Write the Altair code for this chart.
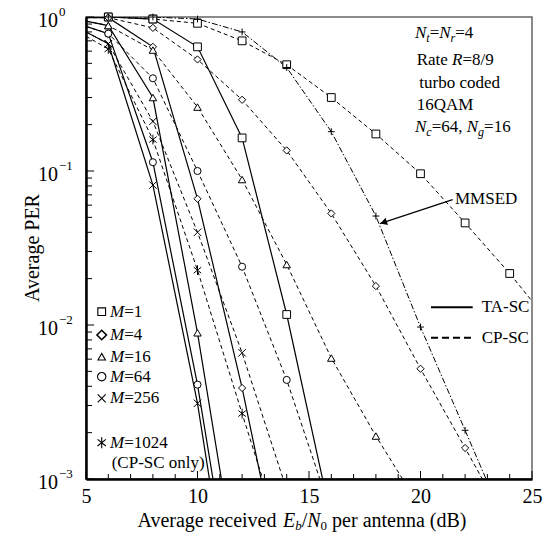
import altair as alt
import pandas as pd

# ---------------- data ----------------
# TA-SC (solid lines)
x_ta_m1 = [5, 6, 8, 10, 12, 14, 16]
y_ta_m1 = [1.0, 1.0, 0.97, 0.64, 0.164, 0.0117, 0.00055]
x_ta_m4 = [5, 6, 8, 10, 12, 14]
y_ta_m4 = [0.99, 0.99, 0.64, 0.066, 0.0039, 0.00016]
x_ta_m16 = [5, 6, 8, 10, 12]
y_ta_m16 = [0.94, 0.88, 0.30, 0.0089, 0.00015]
x_ta_m64 = [5, 6, 8, 10, 12]
y_ta_m64 = [0.87, 0.78, 0.114, 0.0041, 0.00007]
x_ta_m256 = [5, 6, 8, 10, 12]
y_ta_m256 = [0.80, 0.67, 0.081, 0.0031, 0.000045]

# CP-SC (dashed lines)
x_cp_m1 = [5, 6, 8, 10, 12, 14, 16, 18, 20, 22, 24, 25]
y_cp_m1 = [1.0, 1.0, 0.97, 0.91, 0.70, 0.49, 0.30, 0.174, 0.096, 0.046, 0.0216, 0.0143]
x_cp_m4 = [5, 6, 8, 10, 12, 14, 16, 18, 20, 22, 24]
y_cp_m4 = [0.99, 0.99, 0.85, 0.53, 0.29, 0.136, 0.053, 0.0179, 0.0052, 0.00159, 0.00048]
x_cp_m16 = [5, 6, 8, 10, 12, 14, 16, 18, 20]
y_cp_m16 = [0.94, 0.88, 0.61, 0.26, 0.088, 0.0247, 0.0061, 0.0019, 0.00065]
x_cp_m64 = [5, 6, 8, 10, 12, 14, 16]
y_cp_m64 = [0.87, 0.78, 0.40, 0.10, 0.0239, 0.0044, 0.0006]
x_cp_m256 = [5, 6, 8, 10, 12, 14]
y_cp_m256 = [0.80, 0.67, 0.21, 0.040, 0.0066, 0.00085]
x_cp_m1024 = [5, 6, 8, 10, 12, 14]
y_cp_m1024 = [0.75, 0.62, 0.16, 0.0227, 0.00266, 0.00032]

# MMSED (dash-dot line)
x_mmsed = [5, 6, 8, 10, 12, 14, 16, 18, 20, 22, 24]
y_mmsed = [1.0, 1.0, 1.0, 0.97, 0.80, 0.47, 0.18, 0.051, 0.0097, 0.00207, 0.00044]

# arrow annotation (data coords): start near label, tip at MMSED curve
arrow_x = [21.44, 18.18]
arrow_y = [0.0652, 0.0455]

# axis ticks
x_major = [5, 10, 15, 20, 25]
x_minor = [v for v in range(5, 26) if v % 5 != 0]
y_major = [1.0, 0.1, 0.01, 0.001]
y_minor = [m * 10.0 ** e for e in (-3, -2, -1) for m in range(2, 10)]
y_exp = ["0", "\u22121", "\u22122", "\u22123"]

legend_m = ["1", "4", "16", "64", "256", "1024"]

# ---------------- build tables ----------------
series = [
    ("TA1", "TA", "square", x_ta_m1, y_ta_m1),
    ("TA4", "TA", "diamond", x_ta_m4, y_ta_m4),
    ("TA16", "TA", "triangle", x_ta_m16, y_ta_m16),
    ("TA64", "TA", "circle", x_ta_m64, y_ta_m64),
    ("TA256", "TA", "x", x_ta_m256, y_ta_m256),
    ("CP1", "CP", "square", x_cp_m1, y_cp_m1),
    ("CP4", "CP", "diamond", x_cp_m4, y_cp_m4),
    ("CP16", "CP", "triangle", x_cp_m16, y_cp_m16),
    ("CP64", "CP", "circle", x_cp_m64, y_cp_m64),
    ("CP256", "CP", "x", x_cp_m256, y_cp_m256),
    ("CP1024", "CP", "ast", x_cp_m1024, y_cp_m1024),
    ("MMSED", "MM", "plus", x_mmsed, y_mmsed),
]
rows = []
for name, grp, mk, xs, ys in series:
    for xv, yv in zip(xs, ys):
        rows.append(dict(series=name, grp=grp, mk=mk, x=xv, y=yv))
df = pd.DataFrame(rows)

SHAPES = {
    "square": ("square", 60),
    "diamond": ("diamond", 52),
    "triangle": ("triangle-up", 56),
    "circle": ("circle", 50),
    "x": ("M-1,-1L1,1M-1,1L1,-1", 56),
    "ast": ("M-1,-0.8L1,0.8M-1,0.8L1,-0.8M0,-1.3L0,1.3", 56),
    "plus": ("M-1,0L1,0M0,-1L0,1", 46),
}

PW, PH = 446, 462
FONT = "Liberation Serif"

X = alt.X("x:Q", scale=alt.Scale(domain=[5, 25], nice=False, zero=False),
          axis=alt.Axis(values=x_major, ticks=False, grid=False, title=None,
                        labelFont=FONT, labelFontSize=20, labelColor="black",
                        labelPadding=7, domainColor="black", domainWidth=2.5,
                        labelFlush=False))
Y = alt.Y("y:Q", scale=alt.Scale(type="log", domain=[0.001, 1], nice=False),
          axis=alt.Axis(labels=False, ticks=False, grid=False, title=None,
                        domainColor="black", domainWidth=2.5))

base = alt.Chart(df)
layers = []

# ticks (inward)
layers.append(alt.Chart(pd.DataFrame({"x": x_minor})).mark_rule(color="black", strokeWidth=1)
              .encode(x=X, y=alt.value(PH), y2=alt.value(PH - 5)))
layers.append(alt.Chart(pd.DataFrame({"x": x_major})).mark_rule(color="black", strokeWidth=1)
              .encode(x=X, y=alt.value(PH), y2=alt.value(PH - 8)))
layers.append(alt.Chart(pd.DataFrame({"y": y_minor})).mark_rule(color="black", strokeWidth=1)
              .encode(y=Y, x=alt.value(0), x2=alt.value(6)))
layers.append(alt.Chart(pd.DataFrame({"y": y_major})).mark_rule(color="black", strokeWidth=1)
              .encode(y=Y, x=alt.value(0), x2=alt.value(8)))

# lines
layers.append(base.transform_filter("datum.grp == 'TA'")
              .mark_line(clip=True, color="black", strokeWidth=1.2)
              .encode(x=X, y=Y, detail="series:N"))
layers.append(base.transform_filter("datum.grp == 'CP'")
              .mark_line(clip=True, color="black", strokeWidth=1.0, strokeDash=[4, 3])
              .encode(x=X, y=Y, detail="series:N"))
layers.append(base.transform_filter("datum.grp == 'MM'")
              .mark_line(clip=True, color="black", strokeWidth=1.0, strokeDash=[6, 2, 1.5, 2])
              .encode(x=X, y=Y, detail="series:N"))

# markers
for mk, (shape, size) in SHAPES.items():
    layers.append(base.transform_filter(
        f"datum.mk == '{mk}' && datum.y >= 0.001 && datum.x >= 6 && datum.x <= 24")
        .mark_point(shape=shape, size=size, filled=True, fill="white", stroke="black",
                    strokeWidth=1, opacity=1)
        .encode(x=X, y=Y))

# arrow
adf = pd.DataFrame({"x": [arrow_x[0]], "y": [arrow_y[0]], "x2": [arrow_x[1]], "y2": [arrow_y[1]]})
layers.append(alt.Chart(adf).mark_rule(color="black", strokeWidth=1.2)
              .encode(x=X, y=Y, x2="x2:Q", y2="y2:Q"))
hx = arrow_x[1] + (arrow_x[0] - arrow_x[1]) * 0.05
hy = arrow_y[1] * (arrow_y[0] / arrow_y[1]) ** 0.05
layers.append(alt.Chart(pd.DataFrame({"x": [hx], "y": [hy]}))
              .mark_point(shape="triangle-up", size=60, angle=252, filled=True,
                          color="black", opacity=1)
              .encode(x=X, y=Y))

# ---------------- text layout ----------------
ROMAN = {' ': 250, '(': 333, ')': 333, ',': 250, '-': 333, '/': 278, '=': 564, '\u2212': 564,
         'A': 722, 'B': 667, 'C': 667, 'D': 722, 'E': 611, 'M': 889, 'N': 722, 'P': 556,
         'Q': 722, 'R': 667, 'S': 556, 'T': 611, 'a': 444, 'b': 500, 'c': 444, 'd': 500,
         'e': 444, 'g': 500, 'i': 278, 'l': 278, 'n': 500, 'o': 500, 'p': 500, 'r': 333,
         't': 278, 'u': 500, 'v': 500, 'y': 500}
ITAL = {'E': 611, 'M': 833, 'N': 667, 'R': 611, 'b': 500, 'c': 444, 'g': 500, 'r': 389, 't': 278}


def tw(s, size, it):
    tab = ITAL if it else ROMAN
    return sum(tab.get(c, ROMAN.get(c, 500)) for c in s) / 1000.0 * size


trows = []


def rich(pieces, x0, y, base_size=17, sub_size=12, sub_dy=5):
    x = x0
    for p in pieces:
        txt = p[0]
        it = len(p) > 1 and p[1]
        sub = len(p) > 2 and p[2]
        fs = sub_size if sub else base_size
        lead = len(txt) - len(txt.lstrip(" "))
        x += tw(" " * lead, fs, it)
        body = txt.strip(" ")
        trows.append(dict(px=x, py=y + (sub_dy if sub else 0), t=body, fs=fs, it=bool(it)))
        x += tw(txt.lstrip(" "), fs, it)
    return x - x0


# legend of M values
leg_y = [294.7, 318.0, 339.7, 359.7, 381.3, 425.7]
for m, yy in zip(legend_m, leg_y):
    rich([("M", True), ("=" + m,)], 24, yy)
rich([("(CP-SC only)",)], 25.7, 446.3)

# parameter block
rich([("N", True), ("t", True, True), ("=",), ("N", True), ("r", True, True), ("=4",)], 329, 16.3)
rich([("Rate ",), ("R", True), ("=8/9",)], 330.7, 43)
rich([("turbo coded",)], 333.3, 66.3)
rich([("16QAM",)], 330.7, 88)
rich([("N", True), ("c", True, True), ("=64, ",), ("N", True), ("g", True, True), ("=16",)], 329, 109.7)

# line-style legend and MMSED label
rich([("TA-SC",)], 395.7, 290.3)
rich([("CP-SC",)], 395.7, 320.7)
rich([("MMSED",)], 369, 182.3)

# y tick labels 10^k
for k, e in enumerate(y_exp):
    yy = PH * k / 3.0
    rich([("10",)], -48, yy + 4, base_size=20)
    rich([(e,)], -27, yy - 5, base_size=13)

# x axis title
xt_pieces = [("Average received ",), ("E", True), ("b", True, True), ("/",), ("N", True),
             ("0", False, True), (" per antenna (dB)",)]
wtot = sum(tw(p[0], 13 if (len(p) > 2 and p[2]) else 20, len(p) > 1 and p[1]) for p in xt_pieces)
rich(xt_pieces, 216 - wtot / 2, 504, base_size=20, sub_size=13, sub_dy=5)

tdf = pd.DataFrame(trows)
for it in (False, True):
    layers.append(alt.Chart(tdf).transform_filter("datum.it" if it else "!datum.it")
                  .mark_text(align="left", baseline="middle", font=FONT,
                             fontStyle="italic" if it else "normal", color="black")
                  .encode(x=alt.X("px:Q", scale=None, axis=None),
                          y=alt.Y("py:Q", scale=None, axis=None),
                          size=alt.Size("fs:Q", scale=None, legend=None),
                          text="t:N"))

one = pd.DataFrame({"a": [0]})
# y-axis title
layers.append(alt.Chart(one).mark_text(text="Average PER", angle=270, font=FONT, fontSize=20,
                                       color="black", baseline="middle", align="center")
              .encode(x=alt.value(-53), y=alt.value(PH / 2)))

# legend glyphs
leg_shapes = ["square", "diamond", "triangle", "circle", "x", "ast"]
leg_sizes = [60, 90, 56, 70, 64, 70]
for shp, sz, yy in zip(leg_shapes, leg_sizes, leg_y):
    layers.append(alt.Chart(one).mark_point(shape=SHAPES[shp][0], size=sz, filled=True,
                                            fill="white", stroke="black",
                                            strokeWidth=1.6 if shp == "diamond" else 1.1,
                                            opacity=1)
                  .encode(x=alt.value(15.7), y=alt.value(yy)))
layers.append(alt.Chart(one).mark_rule(color="black", strokeWidth=2)
              .encode(x=alt.value(345), x2=alt.value(386.7), y=alt.value(290.3)))
layers.append(alt.Chart(one).mark_rule(color="black", strokeWidth=2, strokeDash=[7, 4])
              .encode(x=alt.value(345), x2=alt.value(386.7), y=alt.value(320.7)))

chart = alt.layer(*layers).properties(
    width=PW, height=PH,
    padding={"left": 86, "top": 17, "right": 18, "bottom": 64},
    autosize=alt.AutoSizeParams(type="none"),
    background="white",
).configure_view(stroke="#666", strokeWidth=1.5)

chart.save("out.html", embed_options={"renderer": "svg", "actions": False})
